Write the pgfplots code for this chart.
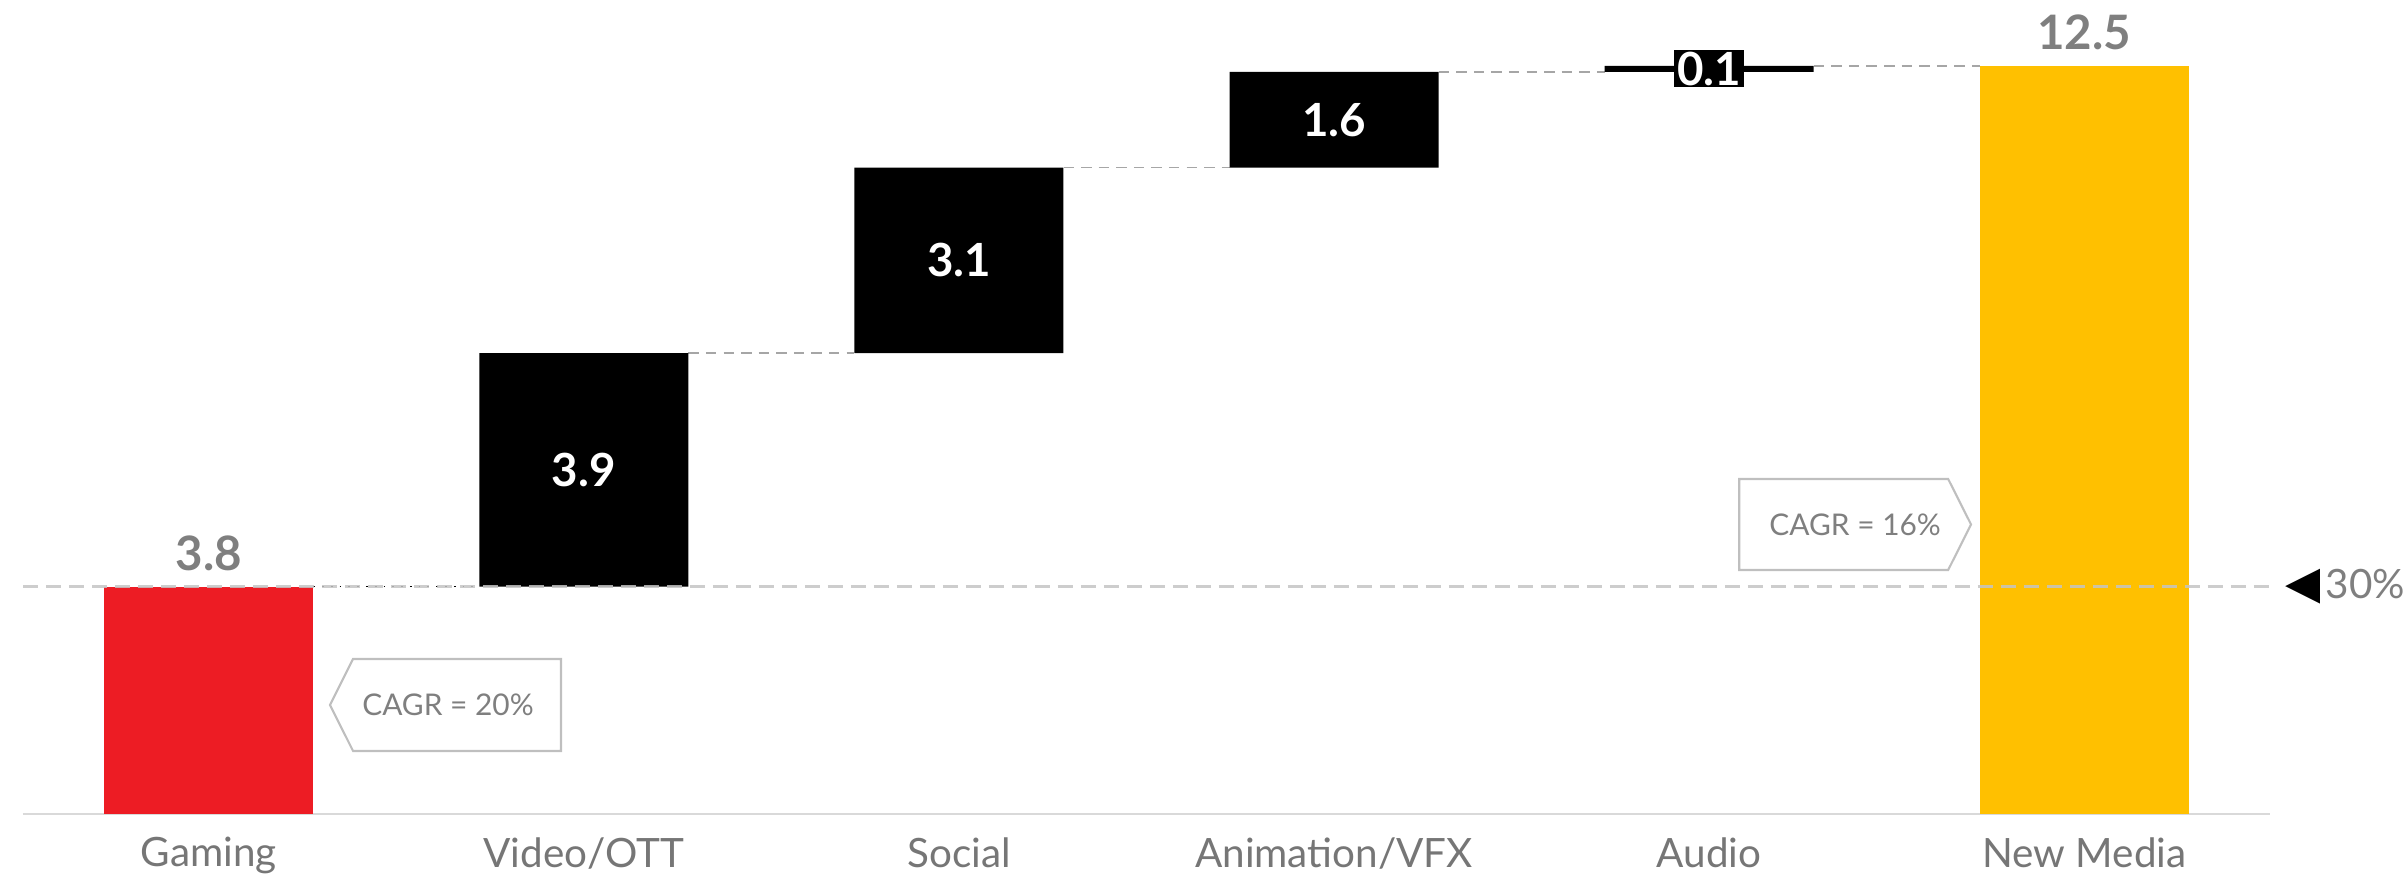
\documentclass[border=0pt]{standalone}
\usepackage{pgfplots}
\pgfplotsset{compat=1.18}
\usepackage{pgfplotstable}
\usepackage{fontspec}
\setmainfont{Lato}
\newfontfamily\dejavu{DejaVu Sans}

\definecolor{gamred}{HTML}{ED1C24}
\definecolor{nmyel}{HTML}{FFC000}
\definecolor{valgray}{HTML}{7F7F7F}
\definecolor{catgray}{HTML}{767676}
\definecolor{dashgray}{HTML}{C4C4C4}
\definecolor{dotgray}{HTML}{A6A6A6}
\definecolor{basegray}{HTML}{D9D9D9}
\definecolor{boxgray}{HTML}{BFBFBF}

% waterfall: invisible base + visible step
\pgfplotstableread{
x base red blk yel
0 0    3.8 0   0
1 3.8  0   3.9 0
2 7.7  0   3.1 0
3 10.8 0   1.6 0
4 12.4 0   0.1 0
5 0    0   0   12.5
}\wf

\begin{document}
\begin{tikzpicture}
\path[use as bounding box] (-0.23cm,-0.67cm) rectangle (23.85cm,8.14cm);
\begin{axis}[
    at={(0,0)}, anchor=south west,
    scale only axis,
    width=22.47cm, height=8.14cm,
    xmin=-0.495, xmax=5.495,
    ymin=0, ymax=13.6,
    ybar stacked,
    bar width=2.09cm,
    axis x line*=bottom,
    axis y line=none,
    x axis line style={draw=basegray, line width=0.7pt},
    xtick={0,1,2,3,4,5},
    xticklabels={Gaming,Video/OTT,Social,Animation/VFX,Audio,New Media},
    xtick style={draw=none},
    xticklabel style={font=\fontsize{11.5}{12}\selectfont, text=catgray, yshift=-0.11cm},
    clip=false,
]
\addplot[fill=none, draw=none] table[x=x, y=base] {\wf};
\addplot[fill=gamred, draw=none] table[x=x, y=red] {\wf};
\addplot[fill=black, draw=none] table[x=x, y=blk] {\wf};
\addplot[fill=nmyel, draw=none] table[x=x, y=yel] {\wf};

% connectors between steps
\draw[black, dotted, line width=0.5pt] (axis cs:0.2787,3.8) -- (axis cs:0.7213,3.8);
\draw[dotgray, densely dashed, line width=0.4pt] (axis cs:1.2787,7.7) -- (axis cs:1.7213,7.7);
\draw[dotgray, densely dashed, line width=0.4pt] (axis cs:2.2787,10.8) -- (axis cs:2.7213,10.8);
\draw[dotgray, densely dashed, line width=0.4pt] (axis cs:3.2787,12.4) -- (axis cs:3.7213,12.4);
\draw[dotgray, densely dashed, line width=0.4pt] (axis cs:4.2787,12.5) -- (axis cs:4.7213,12.5);

% anchor points for the annotations drawn on top
\coordinate (refL) at (axis cs:-0.495,3.8);
\coordinate (refR) at (axis cs:5.51,3.8);
\coordinate (refT) at (axis cs:5.535,3.8);
\coordinate (v0) at (axis cs:0,3.8);
\coordinate (v1) at (axis cs:1,5.75);
\coordinate (v2) at (axis cs:2,9.25);
\coordinate (v3) at (axis cs:3,11.6);
\coordinate (v4) at (axis cs:4,12.45);
\coordinate (v5) at (axis cs:5,12.5);
\coordinate (a1) at (axis cs:0.3235,1.821);
\coordinate (a2) at (axis cs:0.3848,2.590);
\coordinate (a3) at (axis cs:0.9393,2.590);
\coordinate (a4) at (axis cs:0.9393,1.053);
\coordinate (a5) at (axis cs:0.3848,1.053);
\coordinate (at) at (axis cs:0.638,1.82);
\coordinate (b1) at (axis cs:4.080,5.597);
\coordinate (b2) at (axis cs:4.637,5.597);
\coordinate (b3) at (axis cs:4.698,4.837);
\coordinate (b4) at (axis cs:4.637,4.077);
\coordinate (b5) at (axis cs:4.080,4.077);
\coordinate (bt) at (axis cs:4.389,4.83);
\end{axis}

% 30% reference line
\draw[dashgray, opacity=0.85, line width=0.9pt, dash pattern=on 0.15cm off 0.08cm] (refL) -- (refR);
\node[anchor=west, inner sep=0, text=valgray, font=\fontsize{11.5}{12}\selectfont]
    at (refT) {{\dejavu\color{black}\fontsize{13}{13}\selectfont ◀}\hspace{0.05cm}30\%};

% value labels
\node[anchor=base, inner sep=0, yshift=0.16cm, text=valgray, font=\bfseries\fontsize{13.5}{14}\selectfont] at (v0) {3.8};
\node[anchor=base, inner sep=0, yshift=0.16cm, text=valgray, font=\bfseries\fontsize{13.5}{14}\selectfont] at (v5) {12.5};
\node[text=white, font=\bfseries\fontsize{13}{14}\selectfont] at (v1) {3.9};
\node[text=white, font=\bfseries\fontsize{13}{14}\selectfont] at (v2) {3.1};
\node[text=white, font=\bfseries\fontsize{13}{14}\selectfont] at (v3) {1.6};
\node[fill=black, text=white, inner sep=0, minimum width=0.7cm, minimum height=0.37cm,
    font=\bfseries\fontsize{13}{14}\selectfont] at (v4) {0.1};

% CAGR callouts
\draw[boxgray, line width=0.6pt] (a1) -- (a2) -- (a3) -- (a4) -- (a5) -- cycle;
\node[text=valgray, font=\fontsize{8.5}{9}\selectfont] at (at) {CAGR = 20\%};
\draw[boxgray, line width=0.6pt] (b1) -- (b2) -- (b3) -- (b4) -- (b5) -- cycle;
\node[text=valgray, font=\fontsize{8.5}{9}\selectfont] at (bt) {CAGR = 16\%};
\end{tikzpicture}
\end{document}
